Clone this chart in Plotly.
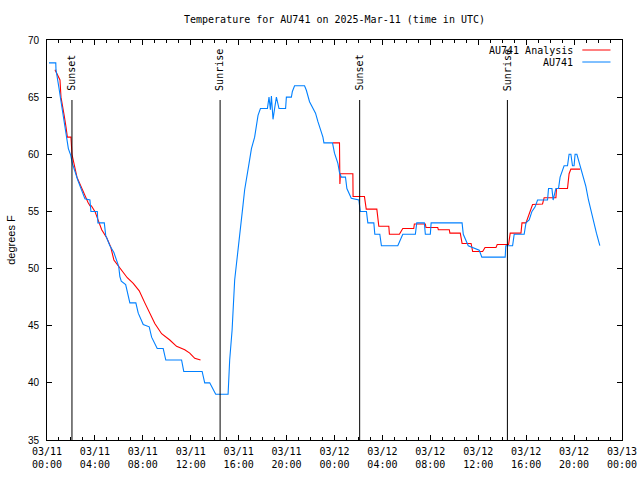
import plotly.graph_objects as go

# ---------------- data ----------------
analysis_times = [
    "2025-03-11 00:40", "2025-03-11 01:05", "2025-03-11 01:10", "2025-03-11 01:19",
    "2025-03-11 01:27", "2025-03-11 01:35", "2025-03-11 01:42", "2025-03-11 02:00",
    "2025-03-11 02:05", "2025-03-11 02:30", "2025-03-11 03:05", "2025-03-11 03:25",
    "2025-03-11 03:35", "2025-03-11 03:42", "2025-03-11 04:00", "2025-03-11 04:17",
    "2025-03-11 04:34", "2025-03-11 04:59", "2025-03-11 05:19", "2025-03-11 05:35",
    "2025-03-11 06:00", "2025-03-11 06:22", "2025-03-11 06:42", "2025-03-11 07:12",
    "2025-03-11 07:42", "2025-03-11 08:10", "2025-03-11 08:35", "2025-03-11 09:00",
    "2025-03-11 09:34", "2025-03-11 10:15", "2025-03-11 10:49", "2025-03-11 11:30",
    "2025-03-11 11:55", "2025-03-11 12:20", "2025-03-11 12:49",
    "2025-03-11 18:00",
    "2025-03-11 23:52", "2025-03-12 00:25", "2025-03-12 00:27", "2025-03-12 00:30",
    "2025-03-12 01:32", "2025-03-12 01:33", "2025-03-12 02:30", "2025-03-12 02:39",
    "2025-03-12 03:32", "2025-03-12 03:42", "2025-03-12 04:32", "2025-03-12 04:35",
    "2025-03-12 05:25", "2025-03-12 05:42", "2025-03-12 06:37", "2025-03-12 06:40",
    "2025-03-12 07:35", "2025-03-12 07:38", "2025-03-12 08:37", "2025-03-12 08:40",
    "2025-03-12 09:35", "2025-03-12 09:38", "2025-03-12 10:30", "2025-03-12 10:39",
    "2025-03-12 11:24", "2025-03-12 11:32", "2025-03-12 12:22", "2025-03-12 12:34",
    "2025-03-12 13:29", "2025-03-12 13:35", "2025-03-12 14:32", "2025-03-12 14:40",
    "2025-03-12 15:34", "2025-03-12 15:39", "2025-03-12 15:59", "2025-03-12 16:32",
    "2025-03-12 17:22", "2025-03-12 17:30", "2025-03-12 18:29", "2025-03-12 18:32",
    "2025-03-12 19:27", "2025-03-12 19:35", "2025-03-12 19:44", "2025-03-12 20:30",
]
analysis_temps = [
    67.4, 66.5, 65.0, 64.2,
    63.3, 62.4, 61.5, 61.5,
    60.0, 58.0, 56.5, 55.8,
    55.5, 55.5, 55.0, 54.25,
    53.4, 52.7, 51.9, 50.75,
    50.2, 49.7, 49.2, 48.7,
    48.05, 47.0, 46.1, 45.2,
    44.3, 43.75, 43.2, 42.9,
    42.6, 42.15, 42.0,
    None,
    61.0, 61.0, 57.4, 58.3,
    58.3, 56.3, 56.3, 55.2,
    55.2, 53.7, 53.7, 53.0,
    53.0, 53.5, 53.5, 53.9,
    53.9, 53.6, 53.6, 53.4,
    53.4, 53.1, 53.1, 52.2,
    52.2, 51.5, 51.5, 51.85,
    51.85, 52.1, 52.1, 53.1,
    53.1, 54.0, 54.0, 55.6,
    55.65, 56.2, 56.2, 57.0,
    57.0, 58.3, 58.7, 58.7,
]

obs_times = [
    "2025-03-11 00:10", "2025-03-11 00:44", "2025-03-11 00:45", "2025-03-11 00:52",
    "2025-03-11 01:00", "2025-03-11 01:09", "2025-03-11 01:17", "2025-03-11 01:25",
    "2025-03-11 01:30", "2025-03-11 01:39", "2025-03-11 01:47", "2025-03-11 01:59",
    "2025-03-11 02:07", "2025-03-11 02:20", "2025-03-11 02:34", "2025-03-11 03:10",
    "2025-03-11 03:35", "2025-03-11 03:40", "2025-03-11 04:12", "2025-03-11 04:15",
    "2025-03-11 04:47", "2025-03-11 04:54", "2025-03-11 05:15", "2025-03-11 05:35",
    "2025-03-11 05:49", "2025-03-11 05:59", "2025-03-11 06:05", "2025-03-11 06:12",
    "2025-03-11 06:34", "2025-03-11 06:42", "2025-03-11 06:55", "2025-03-11 07:25",
    "2025-03-11 07:37", "2025-03-11 08:02", "2025-03-11 08:32", "2025-03-11 08:44",
    "2025-03-11 09:12", "2025-03-11 09:42", "2025-03-11 09:55", "2025-03-11 11:14",
    "2025-03-11 11:25", "2025-03-11 12:57", "2025-03-11 13:10", "2025-03-11 13:35",
    "2025-03-11 14:05", "2025-03-11 15:07", "2025-03-11 15:15", "2025-03-11 15:27",
    "2025-03-11 15:40", "2025-03-11 16:22", "2025-03-11 16:30", "2025-03-11 16:52",
    "2025-03-11 17:04", "2025-03-11 17:20", "2025-03-11 17:29", "2025-03-11 17:37",
    "2025-03-11 17:49", "2025-03-11 18:24", "2025-03-11 18:32", "2025-03-11 18:39",
    "2025-03-11 18:44", "2025-03-11 18:52", "2025-03-11 19:00", "2025-03-11 19:09",
    "2025-03-11 19:22", "2025-03-11 19:55", "2025-03-11 19:59", "2025-03-11 20:24",
    "2025-03-11 20:29", "2025-03-11 20:40", "2025-03-11 21:30", "2025-03-11 21:39",
    "2025-03-11 21:55", "2025-03-11 22:12", "2025-03-11 22:25", "2025-03-11 22:37",
    "2025-03-11 22:49", "2025-03-11 23:02", "2025-03-11 23:07", "2025-03-11 23:50",
    "2025-03-12 00:00", "2025-03-12 00:09", "2025-03-12 00:17", "2025-03-12 00:25",
    "2025-03-12 00:34", "2025-03-12 00:55", "2025-03-12 01:02", "2025-03-12 01:24",
    "2025-03-12 02:02", "2025-03-12 02:09", "2025-03-12 02:40", "2025-03-12 02:47",
    "2025-03-12 03:17", "2025-03-12 03:22", "2025-03-12 03:47", "2025-03-12 03:55",
    "2025-03-12 05:17", "2025-03-12 05:42", "2025-03-12 06:45",
    "2025-03-12 06:52", "2025-03-12 07:30", "2025-03-12 07:35", "2025-03-12 08:00",
    "2025-03-12 08:04", "2025-03-12 10:39", "2025-03-12 10:45", "2025-03-12 11:10",
    "2025-03-12 12:05", "2025-03-12 12:18", "2025-03-12 14:15", "2025-03-12 14:18",
    "2025-03-12 14:52", "2025-03-12 15:00", "2025-03-12 15:50", "2025-03-12 15:59",
    "2025-03-12 16:15", "2025-03-12 16:29", "2025-03-12 16:45", "2025-03-12 16:57",
    "2025-03-12 17:47", "2025-03-12 17:52", "2025-03-12 18:09", "2025-03-12 18:15",
    "2025-03-12 18:29", "2025-03-12 18:42", "2025-03-12 18:50", "2025-03-12 19:02",
    "2025-03-12 19:10", "2025-03-12 19:27", "2025-03-12 19:35", "2025-03-12 19:44",
    "2025-03-12 19:52", "2025-03-12 20:00", "2025-03-12 20:05", "2025-03-12 20:14",
    "2025-03-12 20:25", "2025-03-12 20:42", "2025-03-12 20:59", "2025-03-12 21:12",
    "2025-03-12 21:29", "2025-03-12 21:40", "2025-03-12 21:52", "2025-03-12 22:09",
]
obs_temps = [
    68, 68, 67.4, 66.8,
    65.8, 64.75, 63.9, 63.0,
    62.4, 61.25, 60.5, 59.9,
    59.2, 58.5, 57.75, 56.1,
    56, 55, 55, 54,
    54, 52.9, 52, 51.4,
    50.75, 50.2, 49.3, 48.9,
    48.6, 48.0, 47, 47,
    46.1, 45.1, 44.9, 44.0,
    43, 43, 42, 42,
    41, 41, 40, 40,
    39, 39, 42, 44.6,
    49, 55.6, 56.9, 59.2,
    60.5, 61.5, 62.6, 63.4,
    64, 64, 65, 63.9,
    65.1, 63.06, 64, 65,
    64, 64, 65, 65,
    65.5, 66, 66, 65.6,
    64.6, 64.0, 63.6, 62.85,
    62.2, 61.5, 61, 61,
    60.1, 59.5, 59.2, 58.4,
    58, 58, 57, 56.15,
    56, 55, 55, 54,
    54, 53, 53, 52,
    52, 53, 53,
    54, 54, 53, 53,
    54, 54, 53, 52,
    51.6, 51, 51, 52,
    52, 53, 53, 54,
    54.25, 55, 55.4, 56,
    56, 57, 57, 56,
    57, 57, 58, 58.5,
    59, 59, 60, 60,
    59, 59, 60, 60,
    59.35, 58.3, 57.2, 56,
    54.7, 54, 53.1, 52,
]

event_times = ["2025-03-11 02:05", "2025-03-11 14:27", "2025-03-12 02:06", "2025-03-12 14:26"]
event_labels = ["Sunset", "Sunrise", "Sunset", "Sunrise"]

x_tick_times = ["2025-03-11 00:00", "2025-03-11 04:00", "2025-03-11 08:00", "2025-03-11 12:00",
                "2025-03-11 16:00", "2025-03-11 20:00", "2025-03-12 00:00", "2025-03-12 04:00",
                "2025-03-12 08:00", "2025-03-12 12:00", "2025-03-12 16:00", "2025-03-12 20:00",
                "2025-03-13 00:00"]
x_tick_labels = ["03/11<br>00:00", "03/11<br>04:00", "03/11<br>08:00", "03/11<br>12:00",
                 "03/11<br>16:00", "03/11<br>20:00", "03/12<br>00:00", "03/12<br>04:00",
                 "03/12<br>08:00", "03/12<br>12:00", "03/12<br>16:00", "03/12<br>20:00",
                 "03/13<br>00:00"]
y_tick_values = [35, 40, 45, 50, 55, 60, 65, 70]

series_names = ["AU741 Analysis", "AU741"]
series_colors = ["#ff0000", "#0080ff"]

# ---------------- figure ----------------
MONO = "DejaVu Sans Mono"
SANS = "Liberation Sans"

fig = go.Figure()
fig.add_trace(go.Scatter(x=analysis_times, y=analysis_temps, mode="lines",
                         name=series_names[0], connectgaps=False,
                         line=dict(color=series_colors[0], width=1.1)))
fig.add_trace(go.Scatter(x=obs_times, y=obs_temps, mode="lines",
                         name=series_names[1],
                         line=dict(color=series_colors[1], width=1.1)))

shapes = []
annotations = []
for t, lab in zip(event_times, event_labels):
    shapes.append(dict(type="line", xref="x", yref="paper", x0=t, x1=t, y0=0, y1=0.85,
                       line=dict(color="black", width=1)))
    annotations.append(dict(xref="x", yref="paper", x=t, y=0.868, text=lab,
                            textangle=-90, showarrow=False, xanchor="center",
                            yanchor="bottom", font=dict(family=MONO, size=10, color="black")))

# legend (gnuplot style: text right-aligned, sample line on the right)
leg_y = [0.975, 0.945]
for name, col, yy in zip(series_names, series_colors, leg_y):
    annotations.append(dict(xref="paper", yref="paper", x=0.919, y=yy, text=name,
                            showarrow=False, xanchor="right", yanchor="middle",
                            font=dict(family=MONO, size=10, color="black")))
    shapes.append(dict(type="line", xref="paper", yref="paper", x0=0.931, x1=0.98,
                       y0=yy, y1=yy, line=dict(color=col, width=1)))

annotations.append(dict(xref="paper", yref="paper", x=-0.063, y=0.5, text="degrees F",
                        textangle=-90, showarrow=False, xanchor="center", yanchor="middle",
                        font=dict(family=SANS, size=11, color="black")))

fig.update_layout(
    width=640, height=480,
    margin=dict(l=47, r=18, t=40, b=40, autoexpand=False),
    paper_bgcolor="white", plot_bgcolor="white",
    showlegend=False,
    title=dict(text="Temperature for AU741 on 2025-Mar-11 (time in UTC)",
               x=0.5, xref="paper", xanchor="center",
               y=1 - 19 / 480, yref="container", yanchor="middle",
               font=dict(family=MONO, size=10, color="black")),
    shapes=shapes,
    annotations=annotations,
)
fig.update_xaxes(
    type="date", range=["2025-03-11 00:00", "2025-03-13 00:00"], automargin=False,
    tickmode="array", tickvals=x_tick_times, ticktext=x_tick_labels,
    ticks="inside", ticklen=5, tickcolor="black", tickwidth=1,
    showline=True, linecolor="black", linewidth=1, mirror="allticks",
    showgrid=False, zeroline=False, ticklabelstandoff=2,
    minor=dict(dtick=3600000, tick0="2025-03-11 00:00", ticks="inside", ticklen=3,
               tickcolor="black", showgrid=False),
    tickfont=dict(family=MONO, size=10, color="black"),
)
fig.update_yaxes(
    range=[35, 70], tickmode="array", tickvals=y_tick_values, automargin=False,
    ticks="inside", ticklen=5, tickcolor="black", tickwidth=1,
    showline=True, linecolor="black", linewidth=1, mirror="allticks",
    showgrid=False, zeroline=False, ticklabelstandoff=5,
    tickfont=dict(family=SANS, size=10, color="black"),
)

fig.write_html("out.html", config={"displayModeBar": False},
               post_script="document.body.style.margin='0';document.body.style.overflow='hidden';")
